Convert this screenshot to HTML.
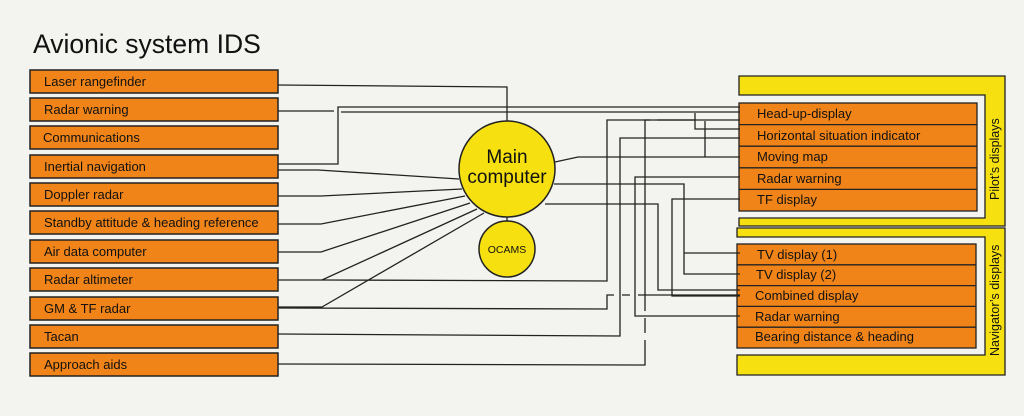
<!DOCTYPE html>
<html><head><style>
html,body{margin:0;padding:0;background:#f3f3ef;}
svg{display:block;font-family:"Liberation Sans",sans-serif;}
</style></head><body>
<svg width="1024" height="416" viewBox="0 0 1024 416" xmlns="http://www.w3.org/2000/svg">
<rect width="1024" height="416" fill="#f3f3ef"/>
<text x="33" y="53" font-size="26.5" fill="#111">Avionic system IDS</text>
<g fill="#f08418" stroke="#222" stroke-width="1.5">
<rect x="30" y="70" width="248" height="23"/>
<rect x="30" y="98" width="248" height="23"/>
<rect x="30" y="126" width="248" height="23"/>
<rect x="30" y="155" width="248" height="23"/>
<rect x="30" y="183" width="248" height="23"/>
<rect x="30" y="211" width="248" height="23"/>
<rect x="30" y="240" width="248" height="23"/>
<rect x="30" y="268" width="248" height="23"/>
<rect x="30" y="297" width="248" height="23"/>
<rect x="30" y="325" width="248" height="23"/>
<rect x="30" y="353" width="248" height="23"/>
</g>
<g font-size="13" fill="#111">
<text x="44" y="86">Laser rangefinder</text>
<text x="44" y="114">Radar warning</text>
<text x="43" y="142">Communications</text>
<text x="44" y="171">Inertial navigation</text>
<text x="44" y="199">Doppler radar</text>
<text x="44" y="227">Standby attitude &amp; heading reference</text>
<text x="44" y="256">Air data computer</text>
<text x="44" y="284">Radar altimeter</text>
<text x="44" y="313">GM &amp; TF radar</text>
<text x="44" y="341">Tacan</text>
<text x="44" y="369">Approach aids</text>
</g>
<path d="M739,76 H1005 V226 H739 V218 H985 V95 H739 Z" fill="#f6e010" stroke="#222" stroke-width="1.3"/>
<path d="M737,228 H1005 V375 H737 V355 H985 V237 H737 Z" fill="#f6e010" stroke="#222" stroke-width="1.3"/>
<g fill="#f08418" stroke="#222" stroke-width="1.3">
<rect x="739" y="103" width="238" height="108"/>
<rect x="737" y="244" width="239" height="104"/>
</g>
<g stroke="#222" stroke-width="1.3">
<line x1="739" y1="124.6" x2="977" y2="124.6"/><line x1="739" y1="146.2" x2="977" y2="146.2"/>
<line x1="739" y1="167.8" x2="977" y2="167.8"/><line x1="739" y1="189.4" x2="977" y2="189.4"/>
<line x1="737" y1="264.8" x2="976" y2="264.8"/><line x1="737" y1="285.6" x2="976" y2="285.6"/>
<line x1="737" y1="306.4" x2="976" y2="306.4"/><line x1="737" y1="327.2" x2="976" y2="327.2"/>
</g>
<g font-size="13" fill="#111">
<text x="757" y="118">Head-up-display</text>
<text x="757" y="140">Horizontal situation indicator</text>
<text x="757" y="161">Moving map</text>
<text x="757" y="183">Radar warning</text>
<text x="757" y="204">TF display</text>
<text x="757" y="259">TV display (1)</text>
<text x="756" y="279">TV display (2)</text>
<text x="755" y="300">Combined display</text>
<text x="755" y="321">Radar warning</text>
<text x="755" y="341">Bearing distance &amp; heading</text>
</g>
<g font-size="12.5" fill="#111">
<text transform="translate(999,200) rotate(-90)">Pilot’s displays</text>
<text transform="translate(999,356) rotate(-90)">Navigator’s displays</text>
</g>
<g fill="none" stroke="#222" stroke-width="1.3">
<path d="M278,85 L507,87 V121"/>
<path d="M278,111 H334 M341,112 H740"/>
<path d="M278,164 H338 V107 H740"/>
<path d="M278,170 L318,170 L459,179"/>
<path d="M278,196 H321 L462,189"/>
<path d="M278,224 H321 L465,196"/>
<path d="M278,252 H321 L470,203"/>
<path d="M278,280 H322 L477,209"/>
<path d="M278,307 H322 L484,213"/>
<path d="M322,280 L607,281 V120 H632"/>
<path d="M278,308 L607,309 V295 H614 M622,295 H630 M638,295 H740"/>
<path d="M278,334 L620,336 V138 H740"/>
<path d="M278,364 L645,365 V340 M645,333 V318 M645,311 V120 H650 M657,120 H695"/>
<path d="M555,162 L578,157 H740"/>
<path d="M554,184 H684 V274 H740 M684,253 H740"/>
<path d="M545,204 H658 V290 H740"/>
<path d="M740,199 H672 V296 H740"/>
<path d="M740,177 H635 V316 H740"/>
<path d="M632,120 H740 M695,113 V129 H740 M705,121 V157"/>
<path d="M507,217 V221"/>
</g>
<circle cx="507" cy="169" r="48" fill="#f6e010" stroke="#222" stroke-width="1.5"/>
<circle cx="507" cy="249" r="28" fill="#f6e010" stroke="#222" stroke-width="1.5"/>
<text x="507" y="163" font-size="19" text-anchor="middle" fill="#111">Main</text>
<text x="507" y="183" font-size="19" text-anchor="middle" fill="#111">computer</text>
<text x="507" y="253" font-size="10.5" text-anchor="middle" fill="#111">OCAMS</text>
</svg>
</body></html>
